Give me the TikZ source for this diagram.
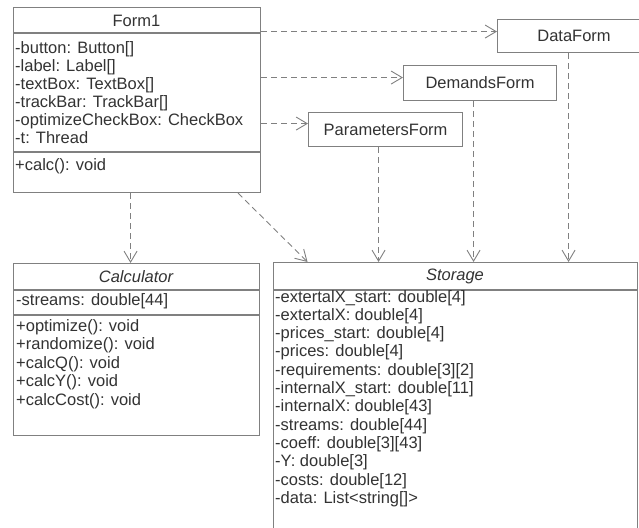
\documentclass[tikz,border=0pt]{standalone}
\usepackage{fontspec}
\setmainfont{Liberation Sans}
\usetikzlibrary{arrows.meta}

\begin{document}
\begin{tikzpicture}[x=1pt,y=-1pt,
  box/.style={draw=black!50,line width=1.1pt,fill=white,inner sep=0pt,anchor=north west,text=black!80,font=\fontsize{16.5}{18}\selectfont},
  member/.style={anchor=base west,inner sep=0pt,text=black!80,font=\fontsize{16.5}{18}\selectfont},
  title/.style={inner sep=0pt,text=black!80,font=\fontsize{16.5}{18}\selectfont},
  sep/.style={draw=black!50,line width=1.1pt},
  dep/.style={draw=black!50,line width=0.9pt,dash pattern=on 6pt off 4pt,-{Straight Barb[length=11pt,width=13pt]}}]
\useasboundingbox (0,0) rectangle (639,527);
\clip (0,0) rectangle (639,527);
% classes
\node[box,minimum width=247pt,minimum height=185pt] (form1) at (13,7) {};
\node[box,minimum width=246pt,minimum height=172pt] (calc) at (13,263) {};
\node[box,minimum width=364pt,minimum height=280pt] (storage) at (273,262) {};
\node[box,minimum width=153pt,minimum height=33pt] (dataform) at (497,19) {DataForm};
\node[box,minimum width=153pt,minimum height=35pt] (demandsform) at (403,65) {DemandsForm};
\node[box,minimum width=154pt,minimum height=34pt] (parametersform) at (308,112) {ParametersForm};
\draw[sep] (13,33) -- (260,33) (13,152) -- (260,152);
\draw[sep] (13,290) -- (259,290) (13,315) -- (259,315);
\draw[sep] (273,290) -- (637,290);
% Form1
\node[title] (form1name) at (136.5,21) {Form1};
\foreach \t [count=\i] in {-button: Button[],-label: Label[],-textBox: TextBox[],-trackBar: TrackBar[],-optimizeCheckBox: CheckBox,-t: Thread}
  \node[member] (fa\i) at (15,{53+18*(\i-1)}) {\t};
\node[member] (fm1) at (15,170) {+calc(): void};
% Calculator
\node[title,font=\fontsize{16.5}{18}\selectfont\itshape] (calcname) at (136,277) {Calculator};
\node[member] (ca1) at (16,305) {-streams: double[44]};
\foreach \t [count=\i] in {+optimize(): void,+randomize(): void,+calcQ(): void,+calcY(): void,+calcCost(): void}
  \node[member] (cm\i) at (16,{331+18.5*(\i-1)}) {\t};
% Storage
\node[title,font=\fontsize{16.5}{18}\selectfont\itshape] (storagename) at (455,276) {Storage};
\foreach \t [count=\i] in {-extertalX\_start: double[4],-extertalX: double[4],-prices\_start: double[4],-prices: double[4],-requirements: double[3][2],-internalX\_start: double[11],-internalX: double[43],-streams: double[44],-coeff: double[3][43],-Y: double[3],-costs: double[12],-data: List<string[]>}
  \node[member] (sa\i) at (275,{302+18.3*(\i-1)}) {\t};
% dependencies
\coordinate (df) at ([yshift=4.5pt]dataform.west);
\coordinate (dm) at ([yshift=5.5pt]demandsform.west);
\coordinate (pm) at ([yshift=6pt]parametersform.west);
\draw[dep] (df -| form1.east) -- (df);
\draw[dep] (dm -| form1.east) -- (dm);
\draw[dep] (pm -| form1.east) -- (pm);
\coordinate (pd) at ([xshift=-7pt]parametersform.south);
\coordinate (dd) at ([xshift=-6.5pt]demandsform.south);
\coordinate (dt) at ([xshift=-5.5pt]dataform.south);
\draw[dep] (pd) -- (pd |- storage.north);
\draw[dep] (dd) -- (dd |- storage.north);
\draw[dep] (dt) -- (dt |- storage.north);
\coordinate (fc) at ([xshift=-6pt]calc.north);
\draw[dep] (fc |- form1.south) -- (fc);
\draw[dep] ([xshift=101pt]form1.south) -- ([xshift=-148pt]storage.north);
\end{tikzpicture}
\end{document}
